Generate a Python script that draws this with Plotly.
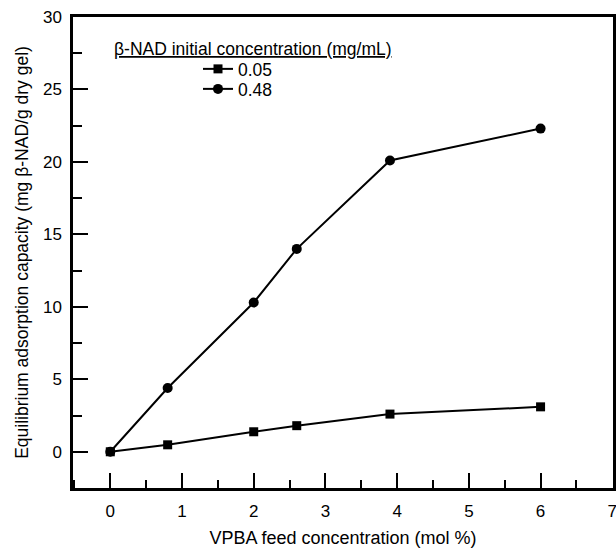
import plotly.graph_objects as go

vpba = [0, 0.8, 2, 2.6, 3.9, 6]
cap_005 = [0, 0.48, 1.38, 1.8, 2.6, 3.1]
cap_048 = [0, 4.4, 10.3, 14.0, 20.1, 22.3]
series_names = ["0.05", "0.48"]
legend_title = "β-NAD initial concentration (mg/mL)"
x_title = "VPBA feed concentration (mol %)"
y_title = "Equilibrium adsorption capacity (mg β-NAD/g dry gel)"

font = "Liberation Sans, Arial, sans-serif"
L, R, T, B = 73, 613, 17, 488
W, H = R - L, B - T

fig = go.Figure()
fig.add_trace(go.Scatter(x=vpba, y=cap_005, name=series_names[0], mode="lines+markers",
                         line=dict(color="black", width=2),
                         marker=dict(symbol="square", size=9, color="black"),
                         legend="legend"))
fig.add_trace(go.Scatter(x=vpba, y=cap_048, name=series_names[1], mode="lines+markers",
                         line=dict(color="black", width=2),
                         marker=dict(symbol="circle", size=10, color="black"),
                         legend="legend2"))

axis_common = dict(showline=True, linecolor="black", linewidth=2.5, mirror=True,
                   ticks="inside", ticklen=15, tickwidth=2, tickcolor="black",
                   showgrid=False, zeroline=False, automargin=False,
                   ticklabeloverflow="allow",
                   tickfont=dict(family=font, size=17, color="black"))

fig.update_xaxes(range=[-0.52, 7.01], dtick=1, tick0=0, ticklabelstandoff=6,
                 minor=dict(ticks="inside", ticklen=8, tickwidth=2, tickcolor="black", dtick=0.5, tick0=0.5),
                 title=dict(text=x_title, font=dict(family=font, size=18, color="black"), standoff=14),
                 **axis_common)
fig.update_yaxes(range=[-2.5, 30], dtick=5, tick0=0, ticklabelstandoff=5,
                 minor=dict(ticks="inside", ticklen=9, tickwidth=2, tickcolor="black", dtick=2.5, tick0=2.5),
                 title=dict(text=y_title, font=dict(family=font, size=17.5, color="black"), standoff=10),
                 **axis_common)

fig.add_annotation(text="<u>" + legend_title + "</u>", xref="paper", yref="paper",
                   x=(112 - L) / W, y=1 - (49 - T) / H, xanchor="left", yanchor="middle",
                   showarrow=False, font=dict(family=font, size=17.5, color="black"))

leg_common = dict(xanchor="left", yanchor="middle", bgcolor="rgba(0,0,0,0)",
                  font=dict(family=font, size=17.5, color="black"), itemwidth=30)
fig.update_layout(
    width=616, height=548,
    margin=dict(l=L, r=616 - R, t=T, b=548 - B, autoexpand=False),
    plot_bgcolor="white", paper_bgcolor="white",
    showlegend=True,
    legend=dict(x=(198 - L) / W, y=1 - (69 - T) / H, **leg_common),
    legend2=dict(x=(198 - L) / W, y=1 - (89 - T) / H, **leg_common),
)

fig.write_html("out.html")
